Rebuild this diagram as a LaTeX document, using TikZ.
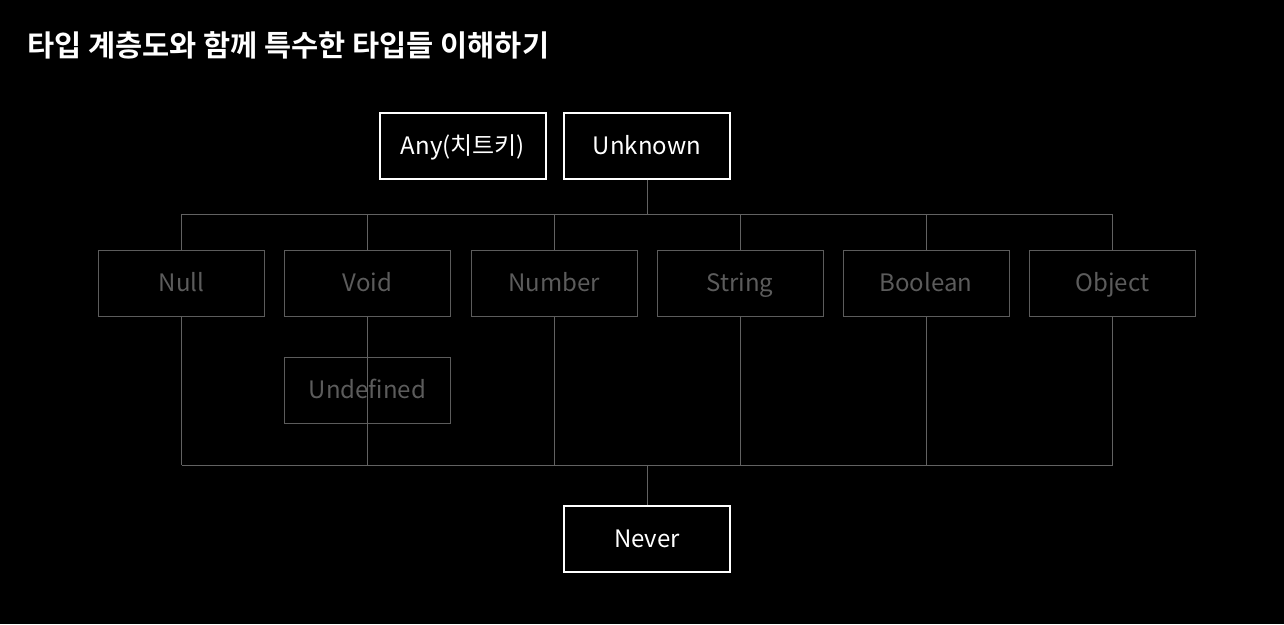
\documentclass[tikz,border=0pt]{standalone}
\usepackage{fontspec}
\setmainfont{Noto Sans CJK KR}
\newfontfamily\titlefont{Noto Sans CJK KR Bold}
\definecolor{dimgray}{HTML}{5C5C5C}
\definecolor{linegray}{HTML}{626262}
\tikzset{
  topbox/.style = {draw=white,line width=1.8pt,text=white,minimum width=166pt,minimum height=66pt,inner sep=0pt,text height=16.5pt,text depth=0pt,font=\fontsize{24}{28}\selectfont},
  typebox/.style = {draw=dimgray,line width=1pt,text=dimgray,minimum width=166pt,minimum height=66pt,inner sep=0pt,text height=16.5pt,text depth=0pt,font=\fontsize{24}{28}\selectfont},
  link/.style = {draw=linegray,line width=1pt}
}
\begin{document}
\begin{tikzpicture}[x=1pt,y=-1pt]
	\fill[black] (0,0) rectangle (1284,624);
	\useasboundingbox (0,0) rectangle (1284,624);
	\node[anchor=west,text=white,font=\titlefont\fontsize{29.5}{34}\selectfont,inner sep=0pt] (title) at (27,45) {타입 계층도와 함께 특수한 타입들 이해하기};
	% top and bottom types
	\node[topbox] (any) at (463,146) {Any(치트키)};
	\node[topbox] (unknown) at (647,146) {Unknown};
	\node[topbox] (never) at (647,539) {Never};
	% subtypes
	\node[typebox] (null) at (181.5,283.5) {Null};
	\node[typebox] (void) at (367.5,283.5) {Void};
	\node[typebox] (number) at (554,283.5) {Number};
	\node[typebox] (string) at (740,283.5) {String};
	\node[typebox] (boolean) at (926,283.5) {Boolean};
	\node[typebox] (object) at (1112.5,283.5) {Object};
	\node[typebox] (undefined) at (367.5,390.5) {Undefined};
	\coordinate (topbus) at (647,214);
	\coordinate (botbus) at (647,465);
	% bus lines
	\draw[link] (unknown.south) -- (topbus);
	\draw[link] (null.north |- topbus) -- (object.north |- topbus);
	\draw[link] (never.north) -- (botbus);
	\draw[link] (null.south |- botbus) -- (object.south |- botbus);
	\foreach \t in {null,void,number,string,boolean,object}{
		\draw[link] (\t.north) -- (\t.north |- topbus);
		\draw[link] (\t.south) -- (\t.south |- botbus);
	}
\end{tikzpicture}
\end{document}
